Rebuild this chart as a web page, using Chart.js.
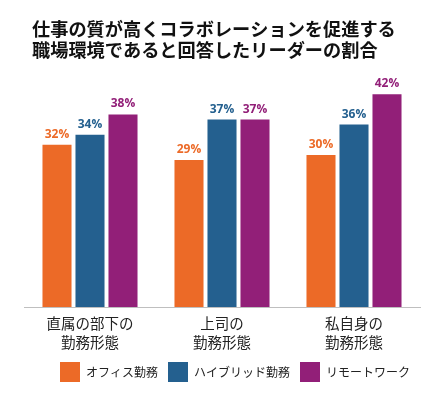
<!DOCTYPE html>
<html>

<head>
    <title>リーダーの割合</title>
    <script src="https://cdn.jsdelivr.net/npm/chart.js"></script>
    <style>
        html, body { margin: 0; padding: 0; background: #fff; }
        #wrap { width: 442px; height: 407px; }
    </style>
</head>

<body>

    <div id="wrap">
        <canvas id="myChart"></canvas>
    </div>

    <script>
        // chart data
        const titleLines = ['仕事の質が高くコラボレーションを促進する', '職場環境であると回答したリーダーの割合'];
        const categories = [['直属の部下の', '勤務形態'], ['上司の', '勤務形態'], ['私自身の', '勤務形態']];
        const seriesNames = ['オフィス勤務', 'ハイブリッド勤務', 'リモートワーク'];
        const officeValues = [32, 29, 30];
        const hybridValues = [34, 37, 36];
        const remoteValues = [38, 37, 42];
        const seriesColors = ['#EC6A27', '#24608F', '#921F78'];

        const CJK = '"Noto Sans CJK JP", "Noto Sans", sans-serif';

        // two line heading, left aligned
        const headerText = {
            id: 'headerText',
            beforeDraw(chart) {
                const ctx = chart.ctx;
                ctx.save();
                ctx.fillStyle = '#111';
                ctx.font = 'bold 18.2px ' + CJK;
                ctx.textBaseline = 'middle';
                ctx.textAlign = 'left';
                ctx.fillText(titleLines[0], 32, 29.5);
                ctx.fillText(titleLines[1], 32, 50.5);
                ctx.restore();
            }
        };

        // percentage above every bar
        const valueLabels = {
            id: 'valueLabels',
            afterDatasetsDraw(chart) {
                const ctx = chart.ctx;
                ctx.save();
                ctx.font = 'bold 12px "Open Sans", sans-serif';
                ctx.textAlign = 'center';
                ctx.textBaseline = 'alphabetic';
                chart.data.datasets.forEach((ds, i) => {
                    chart.getDatasetMeta(i).data.forEach((bar, j) => {
                        ctx.fillStyle = ds.backgroundColor;
                        ctx.fillText(ds.data[j] + '%', bar.x, bar.y - 7);
                    });
                });
                ctx.restore();
            }
        };

        const data = {
            labels: categories,
            datasets: [
                { label: seriesNames[0], data: officeValues, backgroundColor: seriesColors[0] },
                { label: seriesNames[1], data: hybridValues, backgroundColor: seriesColors[1] },
                { label: seriesNames[2], data: remoteValues, backgroundColor: seriesColors[2] }
            ]
        };

        const config = {
            type: 'bar',
            data: data,
            options: {
                responsive: true,
                maintainAspectRatio: false,
                animation: false,
                datasets: {
                    bar: { categoryPercentage: 0.75, barPercentage: 0.88 }
                },
                layout: {
                    padding: { top: 79, left: 24, right: 22, bottom: 15 }
                },
                scales: {
                    x: {
                        grid: { display: false, drawTicks: false },
                        border: { display: true, color: '#bfbfbf', width: 1 },
                        ticks: {
                            color: '#222',
                            padding: 6.5,
                            font: { family: CJK, size: 14.5, lineHeight: 1.31 }
                        },
                        // keep the legend close under the two line labels
                        afterFit: (scale) => { scale.height = 45; }
                    },
                    y: {
                        display: false,
                        min: 0,
                        max: 45
                    }
                },
                plugins: {
                    legend: {
                        position: 'bottom',
                        align: 'end',
                        labels: {
                            boxWidth: 20,
                            boxHeight: 20,
                            padding: 10,
                            color: '#222',
                            font: { family: CJK, size: 12 }
                        }
                    },
                    tooltip: { enabled: false }
                }
            },
            plugins: [headerText, valueLabels]
        };

        const myChart = new Chart(document.getElementById('myChart'), config);
    </script>

</body>

</html>
